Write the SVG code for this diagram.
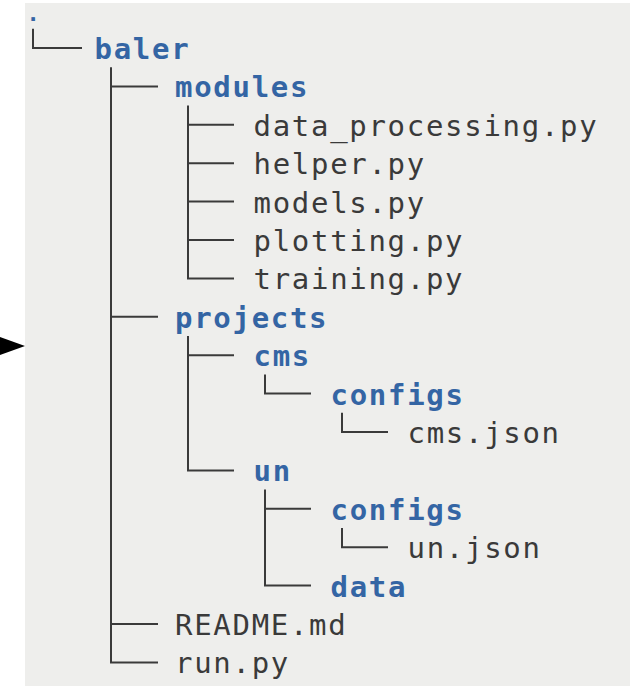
<svg xmlns="http://www.w3.org/2000/svg" width="630" height="686" viewBox="0 0 630 686">
<style>
.t{font-family:"DejaVu Sans Mono","Liberation Mono",monospace;font-size:29px;letter-spacing:1.7px;fill:#3a3a3a}
.d{font-weight:bold;fill:#3465a4}
.c line{stroke:#3a3a3a;stroke-width:2;fill:none}
</style>
<rect x="25" y="3" width="605" height="683" fill="#eeeeec"/>
<polygon points="0,337 25,346 0,355" fill="#000"/>
<g id="connectors" class="c">
<line x1="33" y1="28.8" x2="33" y2="48"/><line x1="32" y1="48" x2="82" y2="48"/>
<line x1="111" y1="67.2" x2="111" y2="662.4"/>
<line x1="110" y1="86.4" x2="158" y2="86.4"/>
<line x1="110" y1="316.8" x2="158" y2="316.8"/>
<line x1="110" y1="624" x2="158" y2="624"/>
<line x1="110" y1="662.4" x2="158" y2="662.4"/>
<line x1="188" y1="105.6" x2="188" y2="278.4"/>
<line x1="187" y1="124.8" x2="234" y2="124.8"/>
<line x1="187" y1="163.2" x2="234" y2="163.2"/>
<line x1="187" y1="201.6" x2="234" y2="201.6"/>
<line x1="187" y1="240" x2="234" y2="240"/>
<line x1="187" y1="278.4" x2="234" y2="278.4"/>
<line x1="188" y1="336" x2="188" y2="470.4"/>
<line x1="187" y1="355.2" x2="234" y2="355.2"/>
<line x1="187" y1="470.4" x2="234" y2="470.4"/>
<line x1="265" y1="374.4" x2="265" y2="393.6"/>
<line x1="264" y1="393.6" x2="311" y2="393.6"/>
<line x1="342" y1="412.8" x2="342" y2="432"/>
<line x1="341" y1="432" x2="388" y2="432"/>
<line x1="265" y1="489.6" x2="265" y2="585.6"/>
<line x1="264" y1="508.8" x2="311" y2="508.8"/>
<line x1="264" y1="585.6" x2="311" y2="585.6"/>
<line x1="342" y1="528" x2="342" y2="547.2"/>
<line x1="341" y1="547.2" x2="388" y2="547.2"/>
</g>
<g id="root"><text class="t d" x="26.4" y="21" style="font-size:22px;letter-spacing:0">.</text></g>
<g id="baler"><text class="t d" x="94.5" y="59">baler</text></g>
<g id="modules"><text class="t d" x="175" y="97.4">modules</text></g>
<g id="data_processing"><text class="t" x="253.5" y="135.8">data_processing.py</text></g>
<g id="helper"><text class="t" x="253.5" y="174.2">helper.py</text></g>
<g id="models"><text class="t" x="253.5" y="212.6">models.py</text></g>
<g id="plotting"><text class="t" x="253.5" y="251">plotting.py</text></g>
<g id="training"><text class="t" x="253.5" y="289.4">training.py</text></g>
<g id="projects"><text class="t d" x="175" y="327.8">projects</text></g>
<g id="cms"><text class="t d" x="253.5" y="366.2">cms</text></g>
<g id="cms_configs"><text class="t d" x="330.5" y="404.6">configs</text></g>
<g id="cms_json"><text class="t" x="407.5" y="443">cms.json</text></g>
<g id="un"><text class="t d" x="253.5" y="481.4">un</text></g>
<g id="un_configs"><text class="t d" x="330.5" y="519.8">configs</text></g>
<g id="un_json"><text class="t" x="407.5" y="558.2">un.json</text></g>
<g id="data"><text class="t d" x="330.5" y="596.6">data</text></g>
<g id="readme"><text class="t" x="175" y="635">README.md</text></g>
<g id="run"><text class="t" x="175" y="673.4">run.py</text></g>
</svg>
